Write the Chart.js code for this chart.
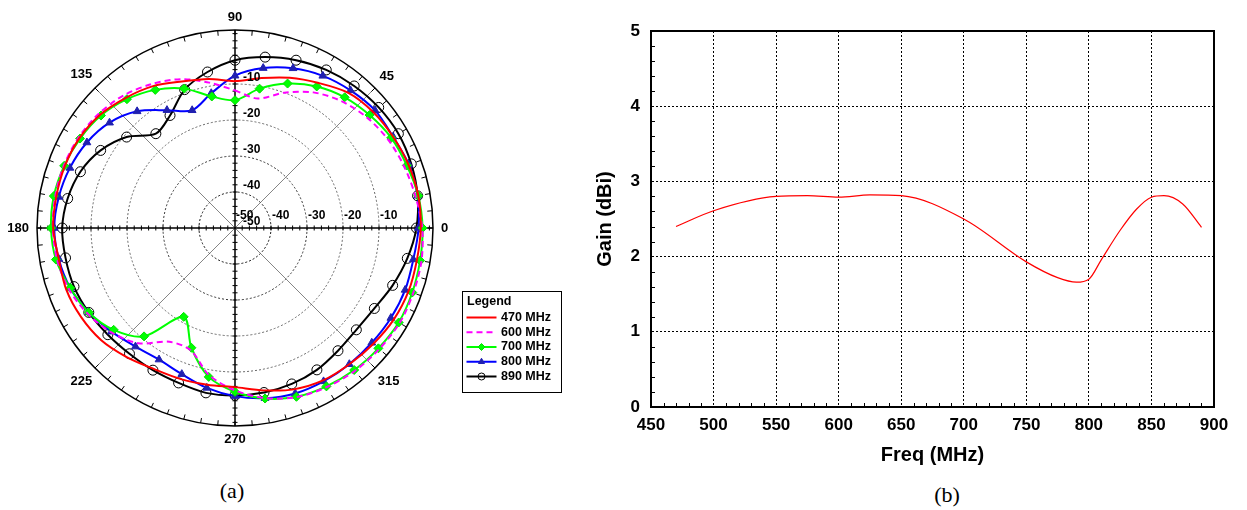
<!DOCTYPE html>
<html>
<head>
<meta charset="utf-8">
<script src="https://cdn.jsdelivr.net/npm/chart.js@4.4.1/dist/chart.umd.min.js"></script>
<style>
  html, body { margin: 0; padding: 0; background: #fff; }
  body { width: 1247px; height: 510px; position: relative; overflow: hidden; }
  #polar { position: absolute; left: 0; top: 0; }
  #gain { position: absolute; left: 580px; top: 0; }
  .cap { position: absolute; font-family: "Liberation Serif", "Times New Roman", serif; font-size: 22px; transform: translate(-50%, -50%); }
</style>
</head>
<body>
<canvas id="polar" width="580" height="470"></canvas>
<canvas id="gain" width="667" height="480"></canvas>
<div class="cap" style="left:232px;top:491px">(a)</div>
<div class="cap" style="left:947px;top:495px">(b)</div>
<script>
// pattern angles (deg, counter-clockwise from 0 at the right)
const angles = [0, 10, 20, 30, 40, 50, 60, 70, 80, 90, 100, 110, 120, 130, 140, 150, 160, 170,
                180, 190, 200, 210, 220, 230, 240, 250, 260, 270, 280, 290, 300, 310, 320, 330, 340, 350];

// gain in dB at each angle
const g470 = [1.6, 1.7, 1.3, 0.7, 0.1, -1.0, -3.5, -5.6, -7.7, -9.2, -8.0, -6.7, -4.5, -2.8, -1.1, -0.1, 0.3, 0.4,
              0.5, -0.3, -0.1, -0.6, -1.5, -3.2, -4.8, -5.4, -5.8, -5.8, -4.2, -2.3, -1.1, -0.6, 0.1, 0.9, 1.3, 1.3];
const g600 = [2.0, 0.9, 0.0, -0.9, -2.2, -4.0, -6.5, -10.0, -13.5, -11.8, -9.0, -6.0, -3.8, -1.9, -0.6, 0.2, 0.6, 0.7,
              0.6, 0.2, -0.8, -2.6, -5.0, -8.2, -13.5, -13.9, -8.5, -4.9, -2.0, 0.0, 1.0, 1.8, 2.3, 2.8, 2.7, 2.6];
const g700 = [2.1, 1.7, 0.8, 0.1, -1.2, -2.6, -4.6, -7.3, -10.7, -14.5, -12.9, -8.8, -5.7, -3.3, -1.4, -0.3, 0.5, 1.1,
              1.1, 0.5, -1.3, -3.1, -6.0, -10.7, -21.5, -14.6, -8.0, -4.5, -1.9, -0.1, 0.8, 1.5, 2.0, 2.5, 2.4, 2.2];
const g800 = [1.0, 1.5, 1.4, 0.7, 0.8, -0.1, -1.2, -2.8, -4.9, -7.7, -12.0, -15.2, -12.2, -7.7, -4.5, -2.5, -1.2, -0.3,
              0.2, -0.3, -1.3, -3.1, -5.2, -7.0, -7.8, -6.8, -4.9, -3.3, -2.0, -1.1, -0.8, -0.6, -0.4, 0.0, 0.3, 0.3];
const g890 = [0.4, 1.5, 2.1, 2.4, 2.1, 1.5, 0.7, -0.4, -1.8, -3.4, -6.0, -9.1, -13.9, -15.8, -10.7, -6.9, -4.3, -2.8,
              -2.0, -2.2, -2.4, -3.1, -3.9, -4.4, -4.4, -4.2, -3.5, -3.5, -3.6, -3.9, -4.5, -5.5, -6.0, -5.3, -3.4, -1.4];

const ringTicks = [-10, -20, -30, -40, -50];
const angleTicks = [0, 45, 90, 135, 180, 225, 270, 315];

// peak gain vs frequency
const freqs = [470, 500, 550, 575, 600, 625, 650, 700, 750, 775, 790, 800, 810, 825, 838, 850, 860, 875, 890];
const peakGain = [2.40, 2.61, 2.80, 2.81, 2.79, 2.82, 2.81, 2.50, 1.93, 1.72, 1.66, 1.70, 1.96, 2.35, 2.63, 2.79, 2.81, 2.70, 2.39];

Chart.defaults.font.family = '"Liberation Sans", Arial, sans-serif';
Chart.defaults.color = '#000';

// radar goes clockwise from the top, so index i sits at 90 - 10*i degrees
const order = [];
for (let i = 0; i < angles.length; i++) {
    order.push((90 - 10 * i + 360) % 360);
}
const pick = vals => order.map(a => vals[angles.indexOf(a)]);

function ringColor(v) {
    if (v === -40) return '#111';
    if (v === -30) return '#333';
    if (v === -20 || v === -10) return '#666';
    return 'rgba(0,0,0,0)';
}

function marker(ctx, ds, x, y, radius) {
    if (!ds.pointRadius) return;
    ctx.save();
    ctx.setLineDash([]);
    ctx.fillStyle = ds.pointBackgroundColor;
    ctx.strokeStyle = ds.pointBorderColor;
    ctx.lineWidth = ds.pointBorderWidth;
    Chart.helpers.drawPoint(ctx, {pointStyle: ds.pointStyle, radius: radius, borderWidth: ds.pointBorderWidth, rotation: 0}, x, y);
    ctx.restore();
}

const polarDeco = {
    id: 'polarDeco',
    beforeDatasetsDraw(chart) {
        const r = chart.scales.r;
        const ctx = chart.ctx;
        const cx = r.xCenter, cy = r.yCenter, R = r.drawingArea;
        ctx.save();
        // diagonal spokes
        ctx.strokeStyle = '#666';
        ctx.lineWidth = 0.8;
        [45, 135, 225, 315].forEach(a => {
            const t = a * Math.PI / 180;
            ctx.beginPath();
            ctx.moveTo(cx, cy);
            ctx.lineTo(cx + R * Math.cos(t), cy - R * Math.sin(t));
            ctx.stroke();
        });
        // main axes
        ctx.strokeStyle = '#000';
        ctx.lineWidth = 1.5;
        ctx.beginPath();
        ctx.moveTo(cx - R, cy); ctx.lineTo(cx + R, cy);
        ctx.moveTo(cx, cy - R); ctx.lineTo(cx, cy + R);
        ctx.stroke();
        // small ticks along the axes every 2 dB
        ctx.lineWidth = 1;
        ctx.beginPath();
        for (let v = -48; v <= 4; v += 2) {
            const d = r.getDistanceFromCenterForValue(v);
            ctx.moveTo(cx + d, cy - 2.5); ctx.lineTo(cx + d, cy + 2.5);
            ctx.moveTo(cx - d, cy - 2.5); ctx.lineTo(cx - d, cy + 2.5);
            ctx.moveTo(cx - 2.5, cy - d); ctx.lineTo(cx + 2.5, cy - d);
            ctx.moveTo(cx - 2.5, cy + d); ctx.lineTo(cx + 2.5, cy + d);
        }
        ctx.stroke();
        // outer circle and its 5 degree ticks
        ctx.lineWidth = 1.5;
        ctx.beginPath();
        ctx.arc(cx, cy, R, 0, Math.PI * 2);
        ctx.stroke();
        ctx.lineWidth = 1;
        ctx.beginPath();
        for (let a = 0; a < 360; a += 5) {
            const t = a * Math.PI / 180;
            ctx.moveTo(cx + R * Math.cos(t), cy - R * Math.sin(t));
            ctx.lineTo(cx + (R - 5) * Math.cos(t), cy - (R - 5) * Math.sin(t));
        }
        ctx.stroke();
        ctx.restore();
    },
    afterDatasetsDraw(chart) {
        const r = chart.scales.r;
        const ctx = chart.ctx;
        const cx = r.xCenter, cy = r.yCenter, R = r.drawingArea;
        ctx.save();
        ctx.fillStyle = '#000';
        ctx.textBaseline = 'middle';
        // angle labels
        ctx.font = 'bold 13px "Liberation Sans", Arial, sans-serif';
        ctx.textAlign = 'center';
        angleTicks.forEach(a => {
            const t = a * Math.PI / 180;
            const txt = String(a);
            const w = ctx.measureText(txt).width;
            const rr = R + 8 + Math.abs(Math.cos(t)) * w / 2 + Math.abs(Math.sin(t)) * 5;
            ctx.fillText(txt, cx + rr * Math.cos(t), cy - rr * Math.sin(t));
        });
        // dB labels on the vertical and horizontal axes
        ctx.font = 'bold 12px "Liberation Sans", Arial, sans-serif';
        ctx.textAlign = 'left';
        ringTicks.forEach(v => {
            const d = r.getDistanceFromCenterForValue(v);
            ctx.fillText(String(v), cx + 8, cy - d - 6);
            ctx.fillText(String(v), cx + d + 1, cy - 12);
        });
        ctx.restore();
    },
    afterDraw(chart) {
        const ctx = chart.ctx;
        const box = {x: 462, y: 291, w: 99, h: 101};
        ctx.save();
        ctx.fillStyle = '#fff';
        ctx.fillRect(box.x, box.y, box.w, box.h);
        ctx.strokeStyle = '#000';
        ctx.lineWidth = 1;
        ctx.strokeRect(box.x + 0.5, box.y + 0.5, box.w, box.h);
        ctx.fillStyle = '#000';
        ctx.textBaseline = 'middle';
        ctx.textAlign = 'left';
        ctx.font = 'bold 12.5px "Liberation Sans", Arial, sans-serif';
        ctx.fillText('Legend', box.x + 5, box.y + 11);
        chart.data.datasets.forEach((ds, i) => {
            const y = box.y + 26.5 + i * 14.75;
            ctx.strokeStyle = ds.borderColor;
            ctx.lineWidth = 2;
            ctx.setLineDash(ds.borderDash || []);
            ctx.beginPath();
            ctx.moveTo(box.x + 4.5, y);
            ctx.lineTo(box.x + 34.5, y);
            ctx.stroke();
            ctx.setLineDash([]);
            marker(ctx, ds, box.x + 19.5, y, 3.5);
            ctx.fillStyle = '#000';
            ctx.fillText(ds.label, box.x + 39, y);
        });
        ctx.restore();
    }
};

new Chart(document.getElementById('polar'), {
    type: 'radar',
    data: {
        labels: order.map(a => a + '°'),
        datasets: [
            {label: '470 MHz', data: pick(g470), borderColor: '#ff0000', pointRadius: 0},
            {label: '600 MHz', data: pick(g600), borderColor: '#ff00ff', borderDash: [6, 4], pointRadius: 0},
            {label: '700 MHz', data: pick(g700), borderColor: '#00ff00', pointStyle: 'rectRot', pointRadius: 4.5,
                pointBackgroundColor: '#00ff00', pointBorderColor: '#00e000', pointBorderWidth: 1},
            {label: '800 MHz', data: pick(g800), borderColor: '#0000ff', pointStyle: 'triangle', pointRadius: 4.5,
                pointBackgroundColor: '#2020b0', pointBorderColor: '#2020b0', pointBorderWidth: 1},
            {label: '890 MHz', data: pick(g890), borderColor: '#000000', pointStyle: 'circle', pointRadius: 5,
                pointBackgroundColor: 'rgba(0,0,0,0)', pointBorderColor: '#000', pointBorderWidth: 1}
        ].map(ds => Object.assign({fill: false, borderWidth: 2, tension: 0.3}, ds))
    },
    options: {
        responsive: false,
        animation: false,
        devicePixelRatio: 1,
        layout: {padding: {left: 37, top: 30, right: 147, bottom: 44}},
        plugins: {legend: {display: false}, tooltip: {enabled: false}},
        scales: {
            r: {
                min: -50,
                max: 5,
                startAngle: 0,
                ticks: {display: false, stepSize: 10},
                pointLabels: {display: false},
                angleLines: {display: false},
                grid: {circular: true, lineWidth: 1, color: c => ringColor(c.tick.value)},
                border: {dash: [2, 2]}
            }
        }
    },
    plugins: [polarDeco]
});

const frame = {
    id: 'frame',
    afterDraw(chart) {
        const ctx = chart.ctx;
        const a = chart.chartArea;
        const xs = chart.scales.x, ys = chart.scales.y;
        ctx.save();
        ctx.strokeStyle = '#000';
        ctx.lineWidth = 1;
        ctx.beginPath();
        for (let f = 460; f < 900; f += 10) {
            if (f % 50 === 0) continue;
            const x = Math.round(xs.getPixelForValue(f)) + 0.5;
            ctx.moveTo(x, a.bottom);
            ctx.lineTo(x, a.bottom - 4);
        }
        for (let k = 1; k < 25; k++) {
            if (k % 5 === 0) continue;
            const y = Math.round(ys.getPixelForValue(k / 5)) + 0.5;
            ctx.moveTo(a.left, y);
            ctx.lineTo(a.left + 4, y);
        }
        ctx.stroke();
        ctx.lineWidth = 2;
        ctx.strokeRect(a.left, a.top, a.right - a.left, a.bottom - a.top);
        ctx.restore();
    }
};

new Chart(document.getElementById('gain'), {
    type: 'line',
    data: {
        datasets: [{
            label: 'Gain',
            data: freqs.map((f, i) => ({x: f, y: peakGain[i]})),
            borderColor: '#ff0000',
            borderWidth: 1.2,
            pointRadius: 0,
            cubicInterpolationMode: 'monotone',
            fill: false
        }]
    },
    options: {
        responsive: false,
        animation: false,
        devicePixelRatio: 1,
        layout: {padding: {left: 0, top: 31, right: 33, bottom: 0}},
        plugins: {legend: {display: false}, tooltip: {enabled: false}},
        scales: {
            x: {
                type: 'linear',
                min: 450,
                max: 900,
                ticks: {stepSize: 50, padding: 8, maxRotation: 0, font: {size: 17, weight: 'bold'}},
                grid: {color: '#000', lineWidth: 1, drawTicks: false},
                border: {color: '#000', width: 2, dash: [2, 2]},
                title: {display: true, text: 'Freq (MHz)', font: {size: 20, weight: 'bold'}, padding: {top: 0, bottom: 13}},
                afterFit: s => { s.height = 73; }
            },
            y: {
                min: 0,
                max: 5,
                ticks: {stepSize: 1, padding: 11, font: {size: 17, weight: 'bold'}},
                grid: {color: '#000', lineWidth: 1, drawTicks: false},
                border: {color: '#000', width: 2, dash: [2, 2]},
                title: {display: true, text: 'Gain (dBi)', font: {size: 20, weight: 'bold'}, padding: {top: 13, bottom: 0}},
                afterFit: s => { s.width = 71; }
            }
        }
    },
    plugins: [frame]
});
</script>
</body>
</html>
